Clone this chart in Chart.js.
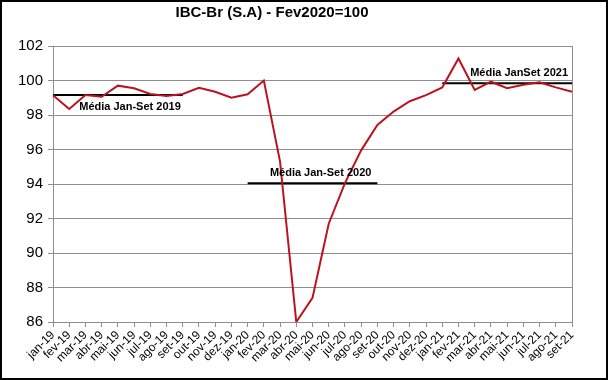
<!DOCTYPE html>
<html lang="pt">
<head>
  <meta charset="UTF-8" />
  <title>IBC-Br (S.A)</title>
  <script src="https://cdn.jsdelivr.net/npm/chart.js"></script>
  <style>
    *{margin:0;padding:0;box-sizing:border-box}
    body{background:#fff;width:608px;height:380px;overflow:hidden}
    .frame{position:absolute;left:0;top:0;width:608px;height:380px;border:2px solid #000;background:#fff}
    #ibcChart{display:block}
  </style>
</head>
<body>
  <div class="frame">
    <canvas id="ibcChart" width="604" height="376"></canvas>
  </div>

  <script>
    const titleText = 'IBC-Br (S.A) - Fev2020=100';

    const months = [
      'jan-19','fev-19','mar-19','abr-19','mai-19','jun-19','jul-19','ago-19','set-19','out-19','nov-19','dez-19',
      'jan-20','fev-20','mar-20','abr-20','mai-20','jun-20','jul-20','ago-20','set-20','out-20','nov-20','dez-20',
      'jan-21','fev-21','mar-21','abr-21','mai-21','jun-21','jul-21','ago-21','set-21'
    ];

    const ibcValues = [
      99.15, 98.35, 99.16, 99.06, 99.70, 99.55, 99.22, 99.10, 99.22, 99.58, 99.35, 99.00,
      99.20, 100.00, 95.30, 86.00, 87.40, 91.70, 94.05, 95.95, 97.42, 98.20, 98.80, 99.15,
      99.60, 101.28, 99.45, 99.93, 99.55, 99.75, 99.90, 99.60, 99.35
    ];

    // médias Jan-Set de cada ano
    const avgNames  = ['Média Jan-Set 2019', 'Média Jan-Set 2020', 'Média JanSet 2021'];
    const avgValues = [99.16, 94.05, 99.84];
    const avgFrom   = ['jan-19', 'jan-20', 'jan-21'];
    const avgTo     = ['set-19', 'set-20', 'set-21'];

    const yTicks = [86, 88, 90, 92, 94, 96, 98, 100, 102];

    const GRID = '#8f8f8f';
    const FONT = '"Liberation Sans", Arial, sans-serif';

    const avgSets = avgValues.map((v, k) => {
      const a = months.indexOf(avgFrom[k]), b = months.indexOf(avgTo[k]);
      return {
        label: avgNames[k],
        data: months.map((m, i) => (i >= a && i <= b) ? v : null),
        borderColor: '#000',
        borderWidth: 2,
        pointRadius: 0,
        spanGaps: false
      };
    });

    // título e rótulos das médias
    const overlay = {
      id: 'overlay',
      afterDatasetsDraw(chart) {
        const { ctx, scales: { x, y } } = chart;
        ctx.save();
        ctx.fillStyle = '#000';
        ctx.textBaseline = 'middle';

        ctx.font = 'bold 15px ' + FONT;
        ctx.textAlign = 'center';
        ctx.fillText(titleText, 270, 11);

        ctx.font = 'bold 11px ' + FONT;
        ctx.textAlign = 'right';
        const shift = [[-2, 12], [-6, -10], [-4, -10.5]];
        avgValues.forEach((v, k) => {
          const px = x.getPixelForValue(months.indexOf(avgTo[k])) + shift[k][0];
          const py = y.getPixelForValue(v) + shift[k][1];
          ctx.fillText(avgNames[k], px, py);
        });
        ctx.restore();
      }
    };

    new Chart(document.getElementById('ibcChart').getContext('2d'), {
      type: 'line',
      data: {
        labels: months,
        datasets: [
          {
            label: 'IBC-Br',
            data: ibcValues,
            borderColor: '#bb1420',
            borderWidth: 2,
            pointRadius: 0,
            tension: 0
          },
          ...avgSets
        ]
      },
      options: {
        responsive: false,
        animation: false,
        events: [],
        layout: { padding: { top: 44, right: 34, left: 0, bottom: 0 } },
        plugins: {
          legend: { display: false },
          tooltip: { enabled: false },
          title: { display: false }
        },
        scales: {
          x: {
            offset: false,
            afterFit: s => { s.height = 56; },
            border: { color: GRID, width: 1 },
            grid: {
              color: c => c.index === months.length - 1 ? GRID : 'transparent',
              tickColor: GRID,
              tickLength: 5,
              drawOnChartArea: true
            },
            ticks: {
              autoSkip: false,
              maxRotation: 45,
              minRotation: 45,
              color: '#000',
              padding: 1,
              font: { family: FONT, size: 12 }
            }
          },
          y: {
            min: 86,
            max: 102,
            afterFit: s => { s.width = 51; },
            afterBuildTicks: s => { s.ticks = yTicks.map(v => ({ value: v })); },
            border: { color: GRID, width: 1 },
            grid: { color: GRID, tickColor: GRID, tickLength: 5 },
            ticks: {
              color: '#000',
              padding: 5,
              font: { family: FONT, size: 15 }
            }
          }
        }
      },
      plugins: [overlay]
    });
  </script>
</body>
</html>
